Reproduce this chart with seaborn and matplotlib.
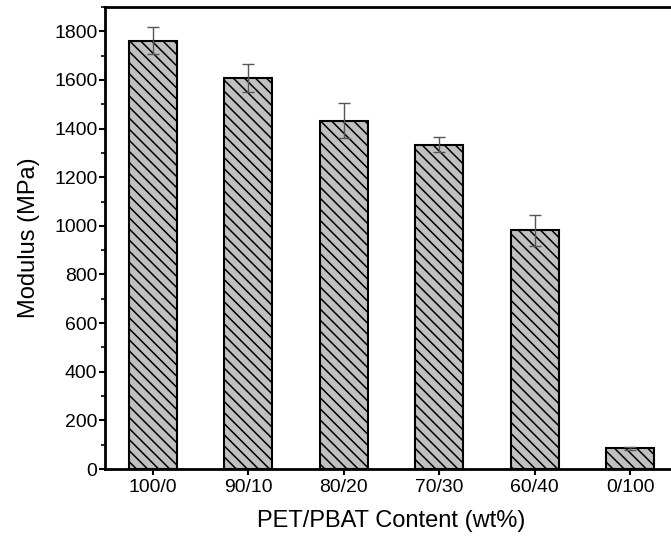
import matplotlib
matplotlib.use("Agg")
import matplotlib.pyplot as plt
from matplotlib.ticker import MultipleLocator
import seaborn as sns
import pandas as pd

categories = ["100/0", "90/10", "80/20", "70/30", "60/40", "0/100"]
modulus = [1761, 1607, 1433, 1333, 981, 85]
modulus_err = [55, 58, 72, 31, 65, 5]

DPI = 133
s = 100 / DPI  # convert sizes designed at 100 dpi

sns.set_theme(style="ticks")
plt.rcParams['font.family'] = ['Liberation Sans', 'DejaVu Sans']
plt.rcParams['hatch.linewidth'] = 1.1 * s

df = pd.DataFrame({"content": categories, "modulus": modulus})

fig = plt.figure(figsize=(671 / DPI, 539 / DPI), dpi=DPI)
ax = fig.add_axes([105/671, 1-469/539, (678-105)/671, (469-7)/539])

sns.barplot(data=df, x="content", y="modulus", ax=ax, color="#c0c0c0",
            width=0.5, errorbar=None, edgecolor="black", linewidth=1.5 * s,
            saturation=1)
for p in ax.patches:
    p.set_hatch("\\\\\\\\")
    p.set_facecolor("#c0c0c0")
    p.set_edgecolor("black")

ax.errorbar(range(len(categories)), modulus, yerr=modulus_err, fmt="none",
            ecolor="#555555", elinewidth=1.0 * s, capsize=4 * s, capthick=1.0 * s, zorder=5)

ax.set_xlim(-0.5, 5.5)
ax.set_ylim(0, 1900)
ax.yaxis.set_major_locator(MultipleLocator(200))
ax.yaxis.set_minor_locator(MultipleLocator(100))
ax.tick_params(axis="both", which="major", direction="out", length=4.5 * s, width=1.5 * s,
               labelsize=14 * s, color="black", labelcolor="black", pad=3 * s)
ax.tick_params(axis="y", which="major", pad=1 * s)
ax.tick_params(axis="y", which="minor", direction="out", length=3 * s, width=1.2 * s, color="black")
ax.tick_params(top=False, right=False)

for sp in ["left", "bottom", "top", "right"]:
    ax.spines[sp].set_visible(True)
    ax.spines[sp].set_linewidth(2 * s)
    ax.spines[sp].set_color("black")

ax.set_xlabel("PET/PBAT Content (wt%)", fontsize=17 * s, labelpad=10 * s, color="black")
ax.set_ylabel("Modulus (MPa)", fontsize=17 * s, labelpad=10 * s, color="black")

fig.savefig("out.png", dpi=DPI)
